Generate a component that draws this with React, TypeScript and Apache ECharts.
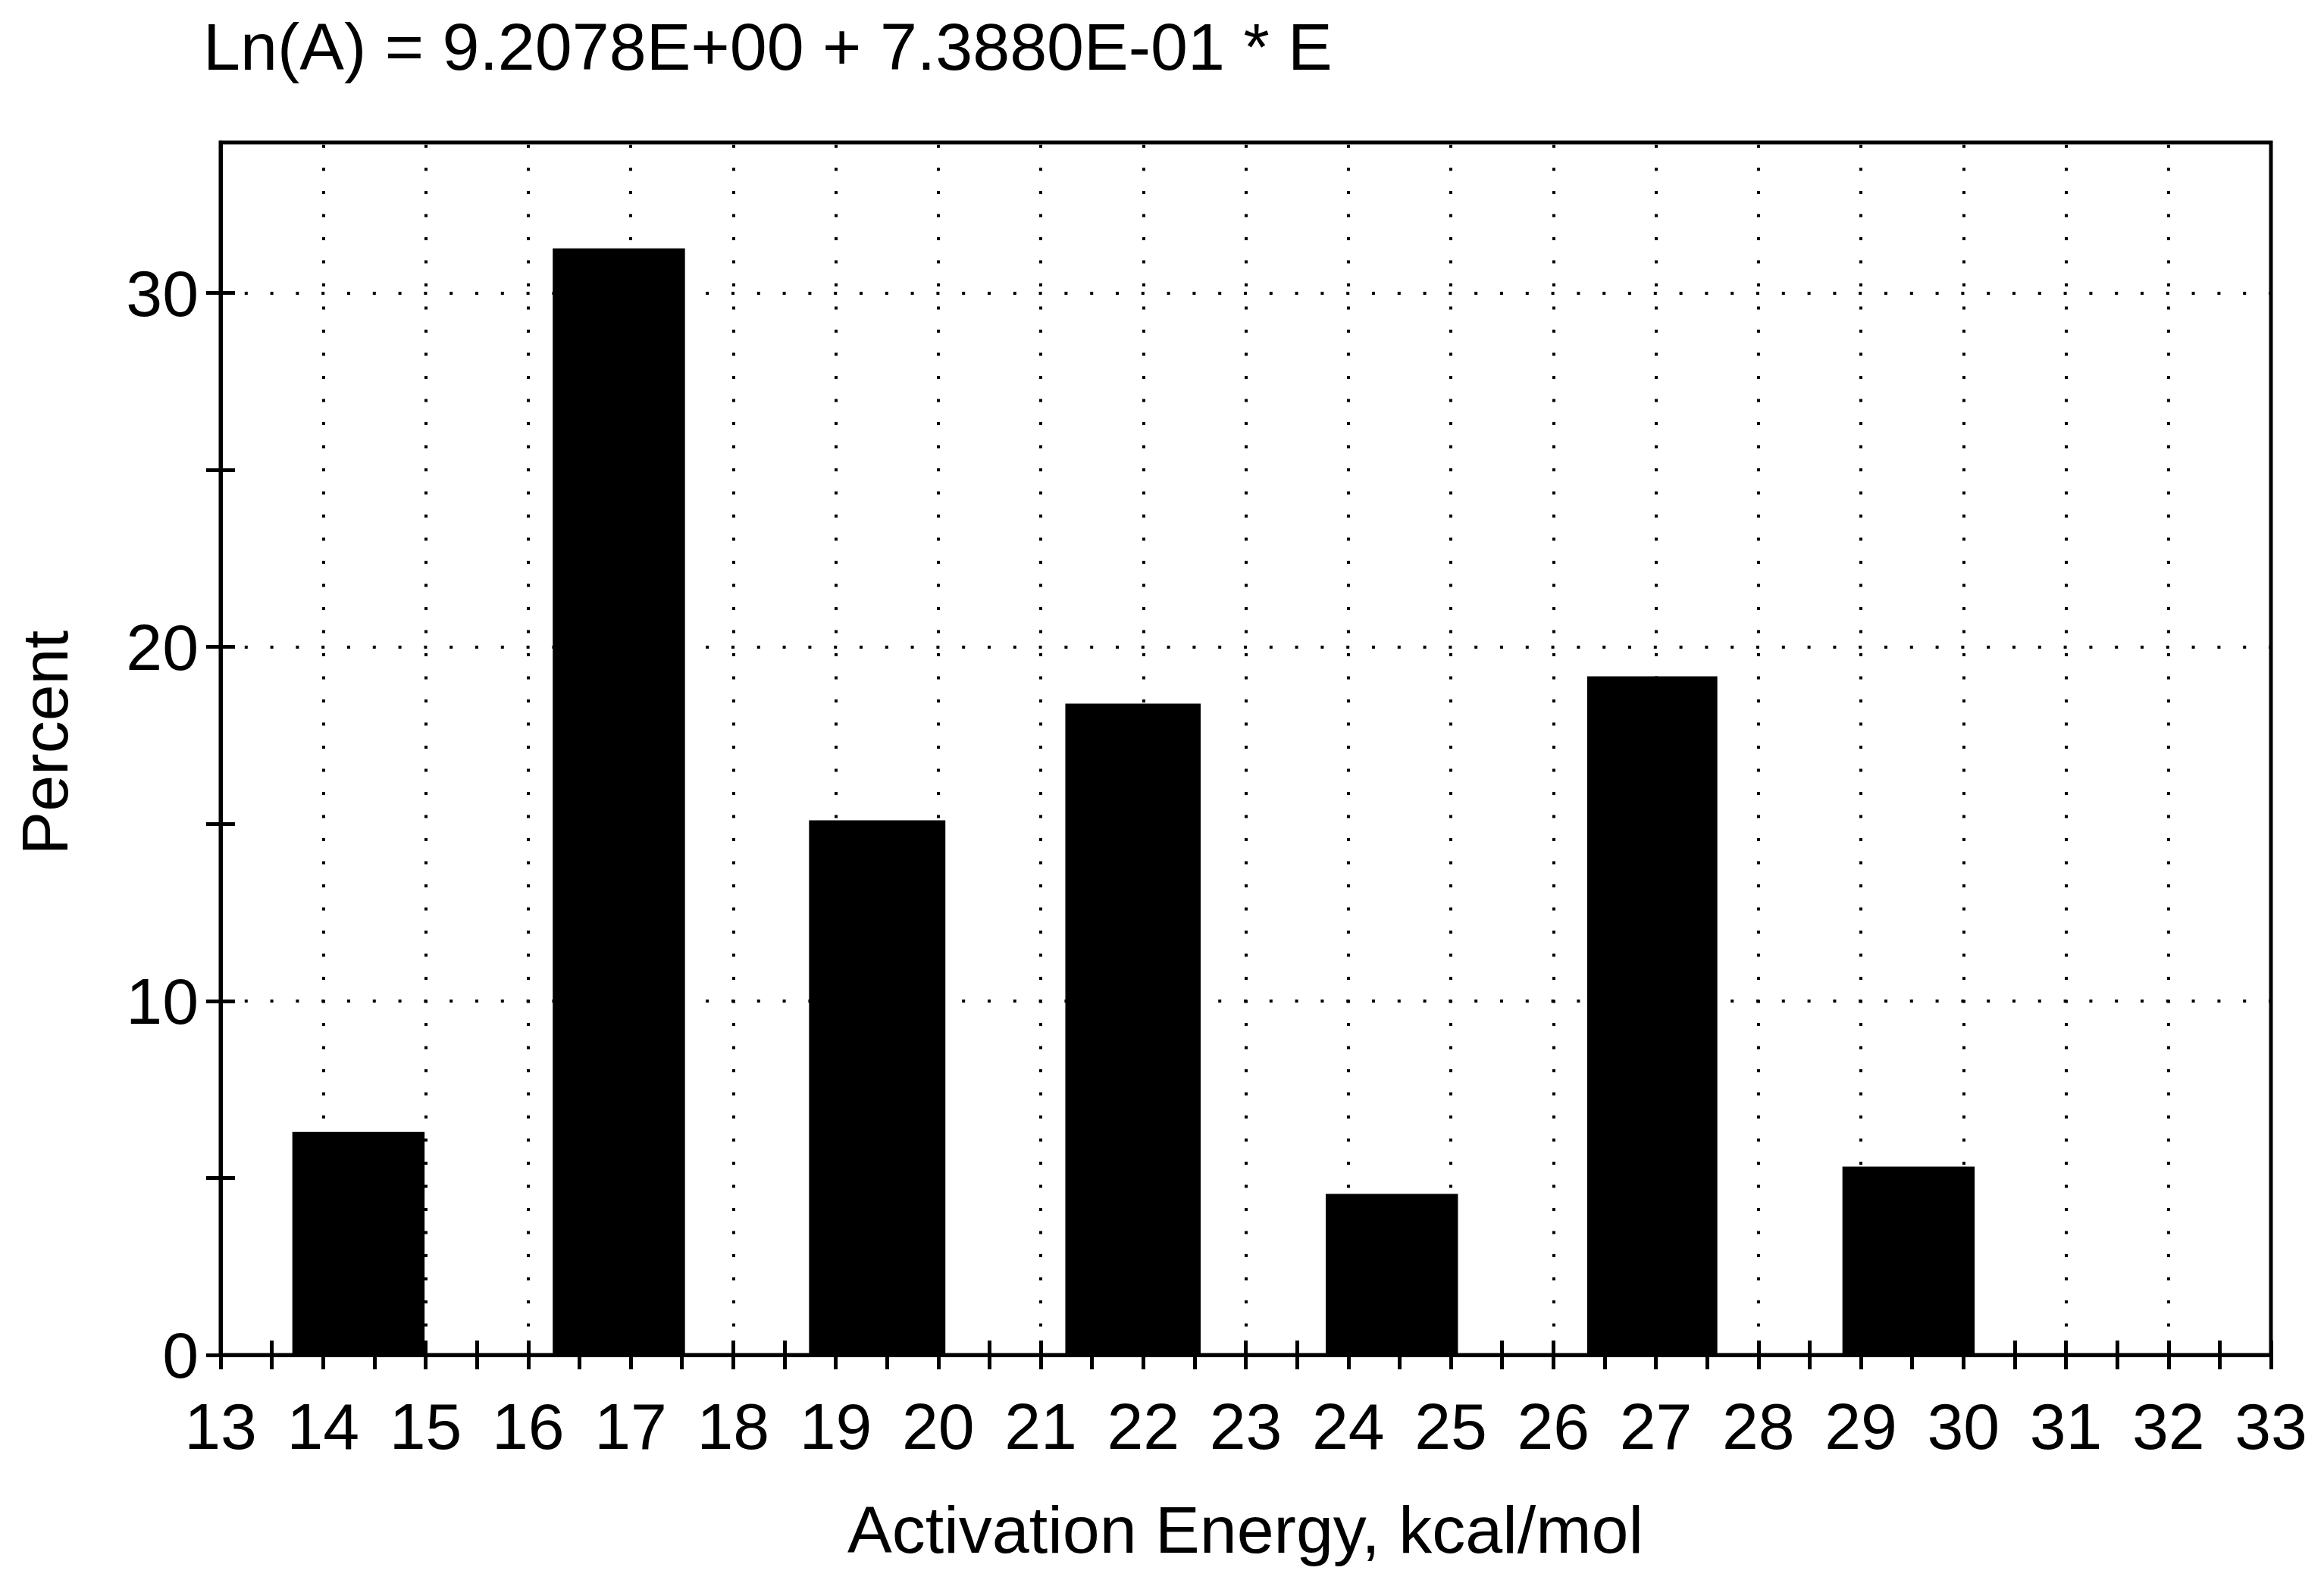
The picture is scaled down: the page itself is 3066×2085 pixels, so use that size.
import { useEffect, useRef } from 'react';
import * as echarts from 'echarts';

const titleText = 'Ln(A) = 9.2078E+00 + 7.3880E-01 * E';
const xAxisTitle = 'Activation Energy, kcal/mol';
const yAxisTitle = 'Percent';

// histogram bins (kcal/mol) and heights (percent)
const binStart = [13.7, 16.24, 18.74, 21.24, 23.78, 26.33, 28.82];
const binEnd = [14.99, 17.53, 20.07, 22.56, 25.07, 27.6, 30.11];
const percent = [6.3, 31.26, 15.1, 18.4, 4.55, 19.17, 5.32];

const xMin = 13;
const xMax = 33;
const xStep = 1;
const yMin = 0;
const yMax = 34.25;
const yGridStep = 10;
const yTickValues = [0, 5, 10, 15, 20, 25, 30];
const yLabelValues = [0, 10, 20, 30];

const FONT = "'Liberation Sans', Arial, Helvetica, sans-serif";
const FS = 86;
const FS_TITLE = 88;

export default function App() {
  const ref = useRef<HTMLDivElement>(null);

  useEffect(() => {
    if (!ref.current) return;
    const chart = echarts.init(ref.current, null, { renderer: 'svg' });

    const gridRect = { left: 291, right: 70, top: 188, bottom: 297 };
    const tickLen = 19;
    const lineW = 5;
    const tickStyle = { color: '#000', width: lineW };

    const data = binStart.map((s, i) => [s, binEnd[i], percent[i]]);

    const hiddenX = (gridIndex: number) => ({
      type: 'value',
      gridIndex,
      min: xMin,
      max: xMax,
      interval: xStep,
      show: false,
    });

    chart.setOption({
      animation: false,
      backgroundColor: '#ffffff',
      grid: [
        { ...gridRect, show: true, borderColor: '#000', borderWidth: lineW, backgroundColor: 'transparent' },
        { ...gridRect, show: false },
        { ...gridRect, show: false },
      ],
      xAxis: [
        {
          type: 'value',
          gridIndex: 0,
          min: xMin,
          max: xMax,
          interval: xStep,
          axisLine: { show: true, onZero: false, lineStyle: { color: '#000', width: lineW } },
          axisTick: { show: true, inside: false, length: tickLen, lineStyle: tickStyle },
          minorTick: { show: true, splitNumber: 2, length: tickLen, lineStyle: tickStyle },
          axisLabel: { show: true, margin: 51, color: '#000', fontSize: FS, fontFamily: FONT },
          splitLine: { show: true, lineStyle: { color: '#000', width: 4, type: [4, 26.5], dashOffset: -2.6 } },
        },
        {
          type: 'value',
          gridIndex: 1,
          min: xMin,
          max: xMax,
          interval: xStep,
          axisLine: { show: false, onZero: false },
          axisTick: { show: true, inside: true, length: tickLen, lineStyle: tickStyle },
          minorTick: { show: true, splitNumber: 2, length: tickLen, lineStyle: tickStyle },
          axisLabel: { show: false },
          splitLine: { show: false },
        },
        hiddenX(2),
      ],
      yAxis: [
        {
          type: 'value',
          gridIndex: 0,
          min: yMin,
          max: yMax,
          interval: yGridStep,
          axisLine: { show: true, onZero: false, lineStyle: { color: '#000', width: lineW } },
          axisTick: { show: false },
          axisLabel: {
            show: true,
            margin: 29,
            color: '#000',
            fontSize: FS,
            fontFamily: FONT,
            formatter: (v: number) => (yLabelValues.indexOf(v) >= 0 ? String(v) : ''),
          },
          splitLine: { show: true, lineStyle: { color: '#000', width: 4, type: [4, 29.8], dashOffset: 2 } },
        },
        {
          type: 'value',
          gridIndex: 1,
          min: yMin,
          max: yMax,
          axisLine: { show: false, onZero: false },
          axisTick: { show: true, inside: false, length: tickLen, customValues: yTickValues, lineStyle: tickStyle },
          axisLabel: { show: false },
          splitLine: { show: false },
        },
        {
          type: 'value',
          gridIndex: 2,
          min: yMin,
          max: yMax,
          axisLine: { show: false, onZero: false },
          axisTick: { show: true, inside: true, length: tickLen, customValues: yTickValues, lineStyle: tickStyle },
          axisLabel: { show: false },
          splitLine: { show: false },
        },
      ],
      series: [
        {
          type: 'custom',
          xAxisIndex: 0,
          yAxisIndex: 0,
          encode: { x: [0, 1], y: 2 },
          data,
          renderItem: (params: any, api: any) => {
            const p0 = api.coord([api.value(0), 0]);
            const p1 = api.coord([api.value(1), api.value(2)]);
            return {
              type: 'rect',
              shape: { x: p0[0], y: p1[1], width: p1[0] - p0[0], height: p0[1] - p1[1] },
              style: { fill: '#000' },
            };
          },
        },
      ],
      graphic: [
        {
          type: 'text',
          x: 268,
          y: 61,
          style: {
            text: titleText,
            fill: '#000',
            fontSize: FS_TITLE,
            fontFamily: FONT,
            align: 'left',
            verticalAlign: 'middle',
          },
        },
        {
          type: 'text',
          x: 1643,
          y: 2018,
          style: {
            text: xAxisTitle,
            fill: '#000',
            fontSize: FS_TITLE,
            fontFamily: FONT,
            align: 'center',
            verticalAlign: 'middle',
          },
        },
        {
          type: 'text',
          x: 59,
          y: 980,
          rotation: Math.PI / 2,
          style: {
            text: yAxisTitle,
            fill: '#000',
            fontSize: FS,
            fontFamily: FONT,
            align: 'center',
            verticalAlign: 'middle',
          },
        },
      ],
    });

    return () => chart.dispose();
  }, []);

  return (
    <div
      ref={ref}
      style={{ position: 'fixed', left: 0, top: 0, width: 3066, height: 2085, background: '#fff' }}
    />
  );
}
